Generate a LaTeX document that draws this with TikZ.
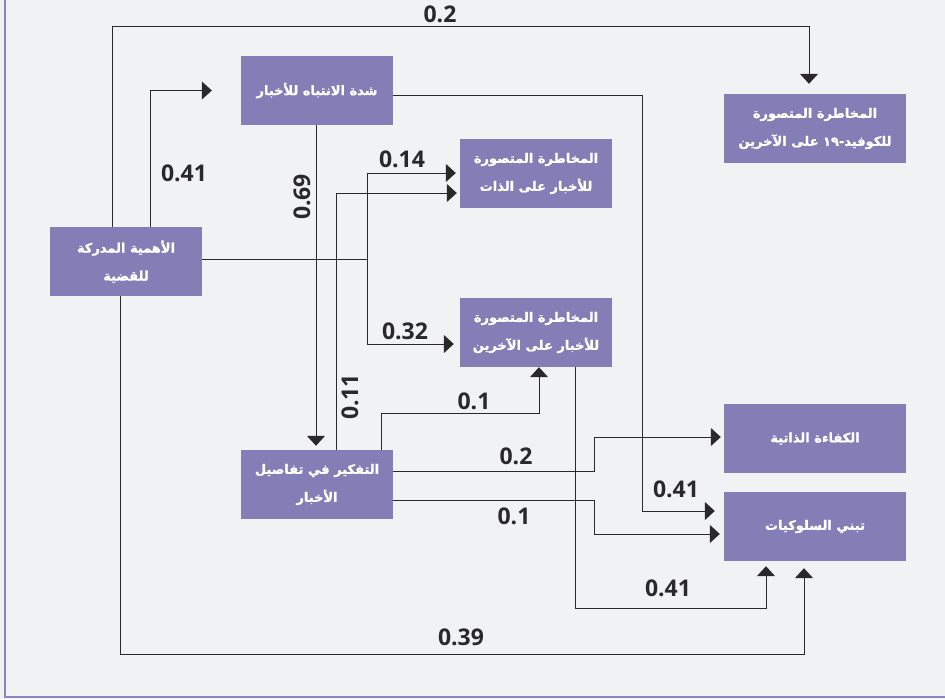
\documentclass[tikz,border=0pt]{standalone}
\usepackage{fontspec}
\setmainfont{Open Sans}
\newfontfamily\arabicfont[Script=Arabic,BoldFeatures={FakeBold=1.2}]{DejaVu Sans}
\TeXXeTstate=1
\usetikzlibrary{arrows.meta}
\definecolor{bg}{HTML}{F1F2F4}
\definecolor{boxc}{HTML}{857EB6}
\definecolor{framec}{HTML}{8A83C2}
\definecolor{linec}{HTML}{2A2829}
\newcommand\rtl[1]{\beginR #1\endR}
\begin{document}
\begin{tikzpicture}[x=1pt,y=-1pt,
  box/.style={fill=boxc, text=white, minimum height=69pt, inner sep=0pt, align=center,
    font=\arabicfont\bfseries\fontsize{13}{28}\selectfont},
  wide/.style={minimum width=182pt},
  narrow/.style={minimum width=152pt},
  conn/.style={draw=linec, line width=1pt},
  arr/.style={conn, -{Triangle[length=10pt,width=18pt]}},
  lbl/.style={font=\bfseries\fontsize{23}{23}\selectfont, text=linec, inner sep=0pt}]
\fill[bg] (0,0) rectangle (945,699);
\useasboundingbox (0,0) rectangle (945,699);
\draw[framec, line width=2.5pt] (5,-2) -- (5,697) -- (947,697);

\node[box,narrow] (b1) at (317,90.5) {\rtl{شدة الانتباه للأخبار}};
\node[box,narrow] (b2) at (536,173.5) {\rtl{المخاطرة المتصورة}\\\rtl{للأخبار على الذات}};
\node[box,wide] (b3) at (815,128.5) {\rtl{المخاطرة المتصورة}\\\rtl{للكوفيد-١٩ على الآخرين}};
\node[box,narrow] (b4) at (126,261.5) {\rtl{الأهمية المدركة}\\\rtl{للقضية}};
\node[box,narrow] (b5) at (536,332.5) {\rtl{المخاطرة المتصورة}\\\rtl{للأخبار على الآخرين}};
\node[box,wide] (b6) at (815,438.5) {\rtl{الكفاءة الذاتية}};
\node[box,narrow] (b7) at (317,484.5) {\rtl{التفكير في تفاصيل}\\\rtl{الأخبار}};
\node[box,wide] (b8) at (815,526.5) {\rtl{تبني السلوكيات}};

\coordinate (j) at (367,259);
\draw[arr, shorten >=10pt] (b4.north -| 112,0) |- (809,26) -- (b3.north -| 809,0);
\draw[arr, shorten >=29pt] (b4.north -| 150,0) |- (b1.west);
\draw[arr, shorten >=9pt] (b1.east |- 0,95) -| (642,511) -- (b8.west |- 0,511);
\draw[arr, shorten >=4pt] (b1.south -| 316,0) -- (b7.north -| 316,0);
\draw[conn] (b4.east |- j) -- (j);
\draw[arr, shorten >=4pt] (j) |- (b2.west |- 0,173);
\draw[arr, shorten >=6pt] (j) |- (b5.west |- 0,344);
\draw[arr, shorten >=3pt] (b7.north -| 336,0) |- (b2.west |- 0,193);
\draw[arr] (b7.north -| 381,0) |- (539,413) -- (b5.south -| 539,0);
\draw[arr, shorten >=3pt] (b7.east |- 0,471) -| (594,437) -- (b6.west |- 0,437);
\draw[arr, shorten >=4pt] (b7.east |- 0,500) -| (594,534) -- (b8.west |- 0,534);
\draw[arr, shorten >=5pt] (b5.south -| 575,0) |- (766,608) -- (b8.south -| 766,0);
\draw[arr, shorten >=7pt] (b4.south -| 120,0) |- (804,654) -- (b8.south -| 804,0);

\node[lbl] (l1) at (440,14) {0.2};
\node[lbl] (l2) at (184,173) {0.41};
\node[lbl] (l3) at (402,159) {0.14};
\node[lbl] (l4) at (405,331) {0.32};
\node[lbl, rotate=90] (l5) at (302,197) {0.69};
\node[lbl, rotate=90] (l6) at (350,397) {0.11};
\node[lbl] (l7) at (474,401) {0.1};
\node[lbl] (l8) at (516,456) {0.2};
\node[lbl] (l9) at (514,516) {0.1};
\node[lbl] (l10) at (676,489) {0.41};
\node[lbl] (l11) at (668,588) {0.41};
\node[lbl] (l12) at (461,637) {0.39};
\end{tikzpicture}
\end{document}
